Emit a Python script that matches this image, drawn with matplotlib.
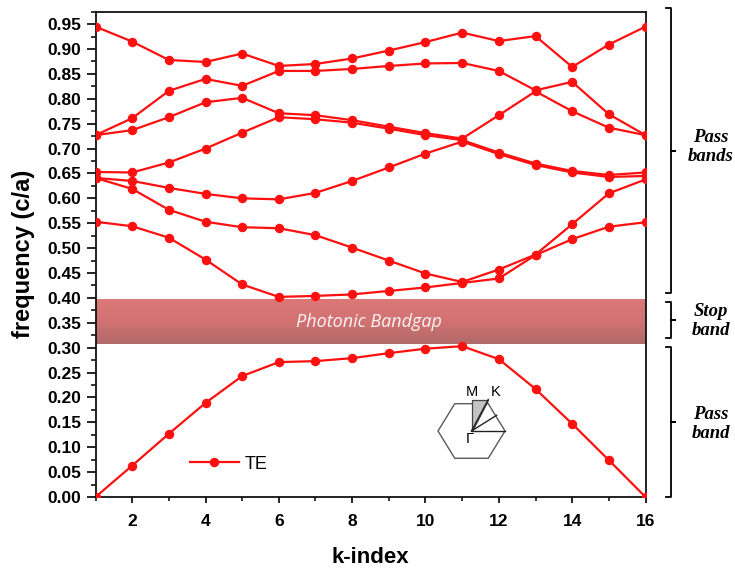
import numpy as np
import matplotlib
matplotlib.use("Agg")
import matplotlib.pyplot as plt
from matplotlib.lines import Line2D
from matplotlib.patches import Polygon
from matplotlib.ticker import MultipleLocator, FormatStrFormatter
from matplotlib.colors import LinearSegmentedColormap

# ---------------- data ----------------
k_index = list(range(1, 17))
band1 = [0.000, 0.063, 0.127, 0.189, 0.243, 0.271, 0.273, 0.279, 0.289, 0.298, 0.303, 0.277, 0.217, 0.147, 0.074, 0.000]
band2 = [0.553, 0.544, 0.521, 0.477, 0.427, 0.402, 0.404, 0.407, 0.414, 0.421, 0.430, 0.439, 0.486, 0.518, 0.543, 0.552]
band3 = [0.641, 0.619, 0.577, 0.553, 0.542, 0.540, 0.526, 0.501, 0.475, 0.449, 0.432, 0.457, 0.487, 0.548, 0.610, 0.638]
band4 = [0.641, 0.635, 0.621, 0.609, 0.600, 0.598, 0.611, 0.635, 0.662, 0.690, 0.714, 0.689, 0.667, 0.652, 0.643, 0.645]
band5 = [0.653, 0.652, 0.672, 0.700, 0.732, 0.763, 0.759, 0.752, 0.740, 0.727, 0.717, 0.692, 0.670, 0.655, 0.647, 0.652]
band6 = [0.727, 0.737, 0.763, 0.793, 0.802, 0.771, 0.767, 0.757, 0.744, 0.731, 0.720, 0.767, 0.815, 0.775, 0.742, 0.727]
band7 = [0.727, 0.761, 0.816, 0.840, 0.826, 0.856, 0.856, 0.860, 0.866, 0.871, 0.872, 0.856, 0.817, 0.834, 0.769, 0.727]
band8 = [0.945, 0.915, 0.878, 0.874, 0.891, 0.866, 0.870, 0.881, 0.897, 0.914, 0.933, 0.916, 0.926, 0.864, 0.909, 0.945]
bands = [band1, band2, band3, band4, band5, band6, band7, band8]
series_label = "TE"

gap_low, gap_high = 0.307, 0.397
gap_text = "Photonic Bandgap"
region_labels = ["Pass\nbands", "Stop\nband", "Pass\nband"]
x_label = "k-index"
y_label = "frequency (c/a)"

W, H = 735, 573
fig = plt.figure(figsize=(W / 100, H / 100), dpi=100)

def fx(px):
    return px / W

def fy(py):
    return 1 - py / H

ax_l, ax_r, ax_t, ax_b = 95.5, 645.5, 11.7, 497.0
ax = fig.add_axes([fx(ax_l), fy(ax_b), fx(ax_r) - fx(ax_l), fy(ax_t) - fy(ax_b)])

red = "#ff1010"
for i, b in enumerate(bands):
    ax.plot(k_index, b, "-o", color=red, lw=1.6, ms=5.8, zorder=3,
            label=series_label if i == 0 else None)

# gradient band gap
cmap = LinearSegmentedColormap.from_list("gap", ["#b26a6a", "#d27272", "#db7878"])
grad = np.linspace(0, 1, 100).reshape(-1, 1)
ax.imshow(grad, extent=(k_index[0], k_index[-1], gap_low, gap_high), origin="lower",
          aspect="auto", cmap=cmap, zorder=1, interpolation="bicubic")
ax.text((k_index[0] + k_index[-1]) / 2 - 0.05, (gap_low + gap_high) / 2, gap_text,
        color="#fbf4f4", fontsize=13, fontstyle="italic", family=["Open Sans", "DejaVu Sans"],
        ha="center", va="center", zorder=4)

ax.set_xlim(1, 16)
ax.set_ylim(0, 0.975)
ax.xaxis.set_major_locator(MultipleLocator(2))
ax.xaxis.set_minor_locator(MultipleLocator(1))
ax.yaxis.set_major_locator(MultipleLocator(0.05))
ax.yaxis.set_minor_locator(MultipleLocator(0.025))
ax.yaxis.set_major_formatter(FormatStrFormatter("%.2f"))

for sp in ax.spines.values():
    sp.set_linewidth(1.3)
    sp.set_color("#111111")
ax.tick_params(axis="y", which="major", direction="out", length=6.5, width=1.2, pad=3.5)
ax.tick_params(axis="y", which="minor", direction="out", length=3.5, width=1.1)
ax.tick_params(axis="x", which="major", direction="out", length=4.5, width=1.2, pad=8)
ax.tick_params(axis="x", which="minor", direction="out", length=3, width=1.1)
for lab in ax.get_xticklabels() + ax.get_yticklabels():
    lab.set_fontfamily(["Liberation Sans", "DejaVu Sans"])
    lab.set_fontweight("bold")
    lab.set_fontsize(12.5)

ax.set_xlabel(x_label, fontsize=16, fontweight="bold", family=["Liberation Sans", "DejaVu Sans"], labelpad=13)
ax.set_ylabel(y_label, fontsize=17, fontweight="bold", family=["Liberation Sans", "DejaVu Sans"], labelpad=9)

leg = ax.legend(loc="center left", bbox_to_anchor=((190 - ax_l) / (ax_r - ax_l), (ax_b - 464.3) / (ax_b - ax_t)),
                frameon=False, borderpad=0, borderaxespad=0, handlelength=2.7, handletextpad=0.3,
                prop={"family": ["Liberation Sans", "DejaVu Sans"], "size": 13})

# ---------------- Brillouin zone inset ----------------
ins_x0, ins_y0, ins_w, ins_h = 425, 380, 100, 100
iax = fig.add_axes([fx(ins_x0), fy(ins_y0 + ins_h), fx(ins_w), ins_h / H])
iax.set_xlim(ins_x0, ins_x0 + ins_w)
iax.set_ylim(ins_y0 + ins_h, ins_y0)
iax.axis("off")
cx, cy, rx, ry = 471.5, 431.0, 33.5, 31.5
ang = np.deg2rad(np.arange(0, 360, 60))
hx = cx + rx * np.cos(ang)
hy = cy - ry * np.sin(ang)
iax.add_patch(Polygon(np.column_stack([hx, hy]), closed=True, fill=False, ec="#5a5a5a", lw=1.0))
M = (cx, cy - ry)
K = (cx + rx / 2, cy - ry)
iax.add_patch(Polygon([(cx, cy), M, K], closed=True, fc="#c4c4c4", ec="#444444", lw=0.9))
mid_edge = (cx + 0.75 * rx, cy - ry / 2)
for p in [K, mid_edge, (cx + rx, cy)]:
    iax.plot([cx, p[0]], [cy, p[1]], color="#222222", lw=1.0)
tfam = ["Liberation Sans", "DejaVu Sans"]
iax.text(M[0], M[1] - 1.0, "M", ha="center", va="bottom", fontsize=10.5, family=tfam)
iax.text(K[0] + 2.5, K[1] - 0.5, "K", ha="left", va="bottom", fontsize=10.5, family=tfam)
iax.text(cx - 1.5, cy + 1.0, "Γ", ha="center", va="top", fontsize=10.5, family=tfam)

# ---------------- right-hand brackets ----------------
brackets = [(8.3, 293.3), (301.7, 338.3), (346.7, 496.7)]
text_y = [147, 321, 424]
bx = 671
for (top, bot), lab, ty in zip(brackets, region_labels, text_y):
    mid = (top + bot) / 2
    xs = [bx - 5, bx, bx, bx + 4, bx, bx, bx - 5]
    ys = [top, top, mid, mid, mid, bot, bot]
    fig.add_artist(Line2D([fx(v) for v in xs], [fy(v) for v in ys], color="black", lw=1.3,
                          transform=fig.transFigure))
    fig.text(fx(711), fy(ty), lab, ha="center", va="center", fontsize=13.5, fontweight="bold",
             fontstyle="italic", family=["Liberation Serif", "DejaVu Serif"], linespacing=1.15)

fig.savefig("out.png", dpi=100)
